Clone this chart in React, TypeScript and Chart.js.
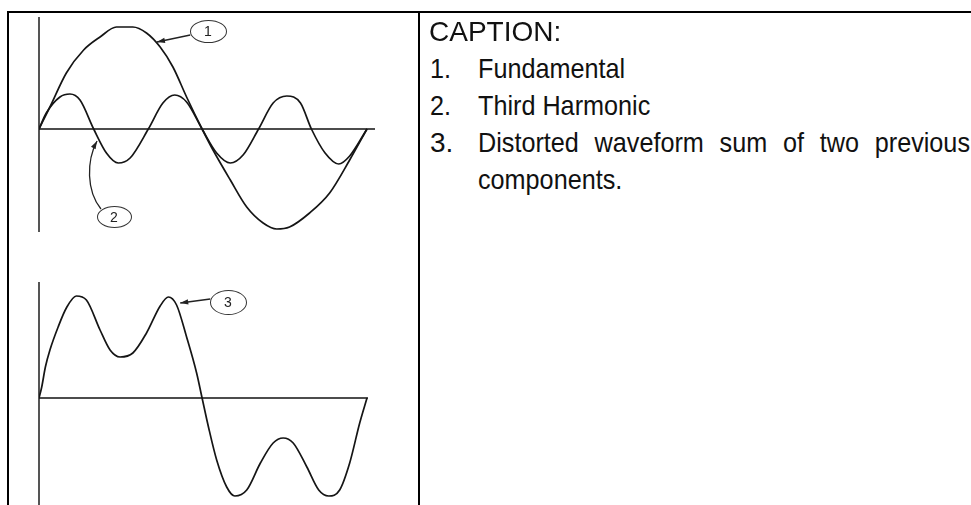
import React, { useEffect, useRef } from "react";
import { Chart, registerables } from "chart.js";

Chart.register(...registerables);

// ---- data (x in degrees, y in units of fundamental amplitude) ----
const fundamentalDeg = [0, 12, 30, 49, 67, 85, 103, 118, 133, 147, 162, 179, 191, 210, 228, 246, 261, 275, 297, 319, 341, 360];
const fundamentalVal = [0, 0.22, 0.56, 0.79, 0.92, 1.02, 1.02, 0.96, 0.82, 0.62, 0.32, 0, -0.21, -0.51, -0.78, -0.94, -1.0, -0.98, -0.84, -0.64, -0.31, 0];

const harmonicDeg = [0, 8, 23, 34, 45, 60, 74, 87, 100, 120, 136, 149, 162, 179, 195, 210, 224, 241, 257, 272, 287, 299, 314, 329, 341, 360];
const harmonicVal = [0, 0.16, 0.32, 0.35, 0.29, 0, -0.24, -0.34, -0.29, 0, 0.26, 0.34, 0.27, 0, -0.24, -0.34, -0.26, 0, 0.26, 0.33, 0.26, 0, -0.24, -0.35, -0.27, 0];

const distortedDeg = [0, 3, 7, 12, 21, 30, 41, 52, 67, 78, 89, 103, 118, 133, 142, 151, 162, 173, 179, 186, 195, 206, 215, 228, 243, 257, 268, 279, 294, 307, 318, 330, 341, 352, 360];
const distortedVal = [0, 0.11, 0.31, 0.48, 0.71, 0.9, 1.02, 0.98, 0.68, 0.48, 0.41, 0.45, 0.65, 0.92, 1.01, 0.93, 0.61, 0.25, 0, -0.29, -0.62, -0.89, -0.98, -0.92, -0.65, -0.45, -0.4, -0.45, -0.69, -0.92, -0.98, -0.92, -0.65, -0.25, 0];

// annotation arrows in data space: [fromX, fromY, (cp1X, cp1Y, cp2X, cp2Y,) toX, toY]
const topArrows = [
  [166, 0.94, 129.5, 0.87],
  [68, -0.8, 52, -0.62, 52, -0.32, 63.7, -0.12],
];
const bottomArrows = [[188, 0.99, 155, 0.95]];

const captionTitle = "CAPTION:";
const captionItems = [
  { num: "1.", text: "Fundamental" },
  { num: "2.", text: "Third Harmonic" },
  { num: "3.", text: "Distorted waveform sum of two previous" },
];
const captionTail = "components.";

const toPoints = (xs: number[], ys: number[]) => xs.map((x, i) => ({ x, y: ys[i] }));

const waveAxesPlugin = {
  id: "waveAxes",
  beforeDatasetsDraw(chart: any) {
    const { ctx, chartArea, scales } = chart;
    const x0 = scales.x.getPixelForValue(0);
    const y0 = scales.y.getPixelForValue(0);
    ctx.save();
    ctx.strokeStyle = "#555";
    ctx.lineWidth = 2;
    ctx.beginPath();
    ctx.moveTo(x0, chartArea.top);
    ctx.lineTo(x0, chartArea.bottom);
    ctx.stroke();
    ctx.strokeStyle = "#111";
    ctx.lineWidth = 1.4;
    ctx.beginPath();
    ctx.moveTo(x0, y0);
    ctx.lineTo(chartArea.right, y0);
    ctx.stroke();
    ctx.restore();
  },
  afterDatasetsDraw(chart: any, _args: any, opts: any) {
    const arrows: number[][] = (opts && opts.arrows) || [];
    const { ctx, scales } = chart;
    const px = (v: number) => scales.x.getPixelForValue(v);
    const py = (v: number) => scales.y.getPixelForValue(v);
    ctx.save();
    ctx.strokeStyle = "#222";
    ctx.fillStyle = "#222";
    ctx.lineWidth = 1.3;
    arrows.forEach((a) => {
      ctx.beginPath();
      ctx.moveTo(px(a[0]), py(a[1]));
      let tx: number, ty: number, fx: number, fy: number;
      if (a.length === 8) {
        ctx.bezierCurveTo(px(a[2]), py(a[3]), px(a[4]), py(a[5]), px(a[6]), py(a[7]));
        tx = px(a[6]); ty = py(a[7]); fx = px(a[4]); fy = py(a[5]);
      } else {
        ctx.lineTo(px(a[2]), py(a[3]));
        tx = px(a[2]); ty = py(a[3]); fx = px(a[0]); fy = py(a[1]);
      }
      ctx.stroke();
      const ang = Math.atan2(ty - fy, tx - fx);
      const len = 8, half = 2.6;
      ctx.beginPath();
      ctx.moveTo(tx, ty);
      ctx.lineTo(tx - len * Math.cos(ang) + half * Math.sin(ang), ty - len * Math.sin(ang) - half * Math.cos(ang));
      ctx.lineTo(tx - len * Math.cos(ang) - half * Math.sin(ang), ty - len * Math.sin(ang) + half * Math.cos(ang));
      ctx.closePath();
      ctx.fill();
    });
    ctx.restore();
  },
};

type WaveProps = {
  series: { x: number; y: number }[][];
  xMax: number;
  yMin: number;
  yMax: number;
  arrows: number[][];
  left: number;
  top: number;
  width: number;
  height: number;
};

function WaveChart(p: WaveProps) {
  const ref = useRef<HTMLCanvasElement | null>(null);
  useEffect(() => {
    if (!ref.current) return;
    const chart = new Chart(ref.current, {
      type: "line",
      data: {
        datasets: p.series.map((s) => ({
          data: s,
          borderColor: "#151515",
          borderWidth: 1.7,
          pointRadius: 0,
          cubicInterpolationMode: "monotone" as const,
          fill: false,
        })),
      },
      options: {
        responsive: false,
        animation: false,
        events: [],
        layout: { padding: 10 },
        plugins: {
          legend: { display: false },
          tooltip: { enabled: false },
          waveAxes: { arrows: p.arrows },
        } as any,
        scales: {
          x: { type: "linear", display: false, min: 0, max: p.xMax },
          y: { type: "linear", display: false, min: p.yMin, max: p.yMax },
        },
      },
      plugins: [waveAxesPlugin],
    });
    return () => chart.destroy();
  }, []);
  return (
    <canvas
      ref={ref}
      width={p.width}
      height={p.height}
      style={{ position: "absolute", left: p.left, top: p.top, width: p.width, height: p.height }}
    />
  );
}

function Bubble({ cx, cy, w, h, label }: { cx: number; cy: number; w: number; h: number; label: string }) {
  return (
    <div
      style={{
        position: "absolute",
        left: cx - w / 2,
        top: cy - h / 2,
        width: w,
        height: h,
        boxSizing: "border-box",
        border: "1.2px solid #333",
        borderRadius: "50%",
        display: "flex",
        alignItems: "center",
        justifyContent: "center",
        font: "14px 'Liberation Sans', Arial, sans-serif",
        color: "#222",
      }}
    >
      {label}
    </div>
  );
}

const narrowScale = 0.9;

export default function App() {
  const rowBaselines = [79, 116, 153];
  const tailBaseline = 190;
  const asc = 23.7; // baseline offset for 28px Liberation Sans with line-height 28px
  return (
    <div
      style={{
        position: "fixed",
        left: 0,
        top: 0,
        width: 971,
        height: 505,
        overflow: "hidden",
        background: "#fff",
      }}
    >
      {/* table borders */}
      <div style={{ position: "absolute", left: 7, top: 11, width: 980, height: 2, background: "#000" }} />
      <div style={{ position: "absolute", left: 7, top: 11, width: 2, height: 520, background: "#000" }} />
      <div style={{ position: "absolute", left: 418, top: 11, width: 2, height: 520, background: "#000" }} />

      {/* top chart: fundamental + third harmonic */}
      <WaveChart
        series={[toPoints(fundamentalDeg, fundamentalVal), toPoints(harmonicDeg, harmonicVal)]}
        xMax={368.8}
        yMin={-1.03}
        yMax={1.12}
        arrows={topArrows}
        left={29}
        top={7}
        width={356}
        height={235}
      />
      {/* bottom chart: distorted waveform */}
      <WaveChart
        series={[toPoints(distortedDeg, distortedVal)]}
        xMax={361.1}
        yMin={-1.2}
        yMax={1.16}
        arrows={bottomArrows}
        left={29}
        top={272}
        width={349}
        height={256}
      />

      <Bubble cx={208} cy={31} w={37} h={23} label="1" />
      <Bubble cx={114} cy={217} w={35} h={22} label="2" />
      <Bubble cx={228} cy={302} w={37} h={25} label="3" />

      {/* caption */}
      <div
        style={{
          position: "absolute",
          left: 429,
          top: 42 - asc,
          font: "28px/28px 'Liberation Sans', Arial, sans-serif",
          color: "#111",
          whiteSpace: "nowrap",
        }}
      >
        {captionTitle}
      </div>
      {captionItems.map((it, i) => (
        <React.Fragment key={it.num}>
          <div
            style={{
              position: "absolute",
              left: 430,
              top: rowBaselines[i] - asc,
              font: "28px/28px 'Liberation Sans', Arial, sans-serif",
              color: "#111",
              whiteSpace: "nowrap",
              transform: i === 2 ? "none" : `scaleX(${narrowScale})`,
              transformOrigin: "left top",
            }}
          >
            {it.num}
          </div>
          <div
            style={{
              position: "absolute",
              left: 478,
              top: rowBaselines[i] - asc,
              width: i === 2 ? (970 - 478) / narrowScale : undefined,
              font: "28px/28px 'Liberation Sans', Arial, sans-serif",
              color: "#111",
              whiteSpace: i === 2 ? "normal" : "nowrap",
              textAlign: i === 2 ? "justify" : "left",
              textAlignLast: i === 2 ? "justify" : "auto",
              transform: `scaleX(${narrowScale})`,
              transformOrigin: "left top",
            }}
          >
            {it.text}
          </div>
        </React.Fragment>
      ))}
      <div
        style={{
          position: "absolute",
          left: 478,
          top: tailBaseline - asc,
          font: "28px/28px 'Liberation Sans', Arial, sans-serif",
          color: "#111",
          whiteSpace: "nowrap",
          transform: `scaleX(${narrowScale})`,
          transformOrigin: "left top",
        }}
      >
        {captionTail}
      </div>
    </div>
  );
}
